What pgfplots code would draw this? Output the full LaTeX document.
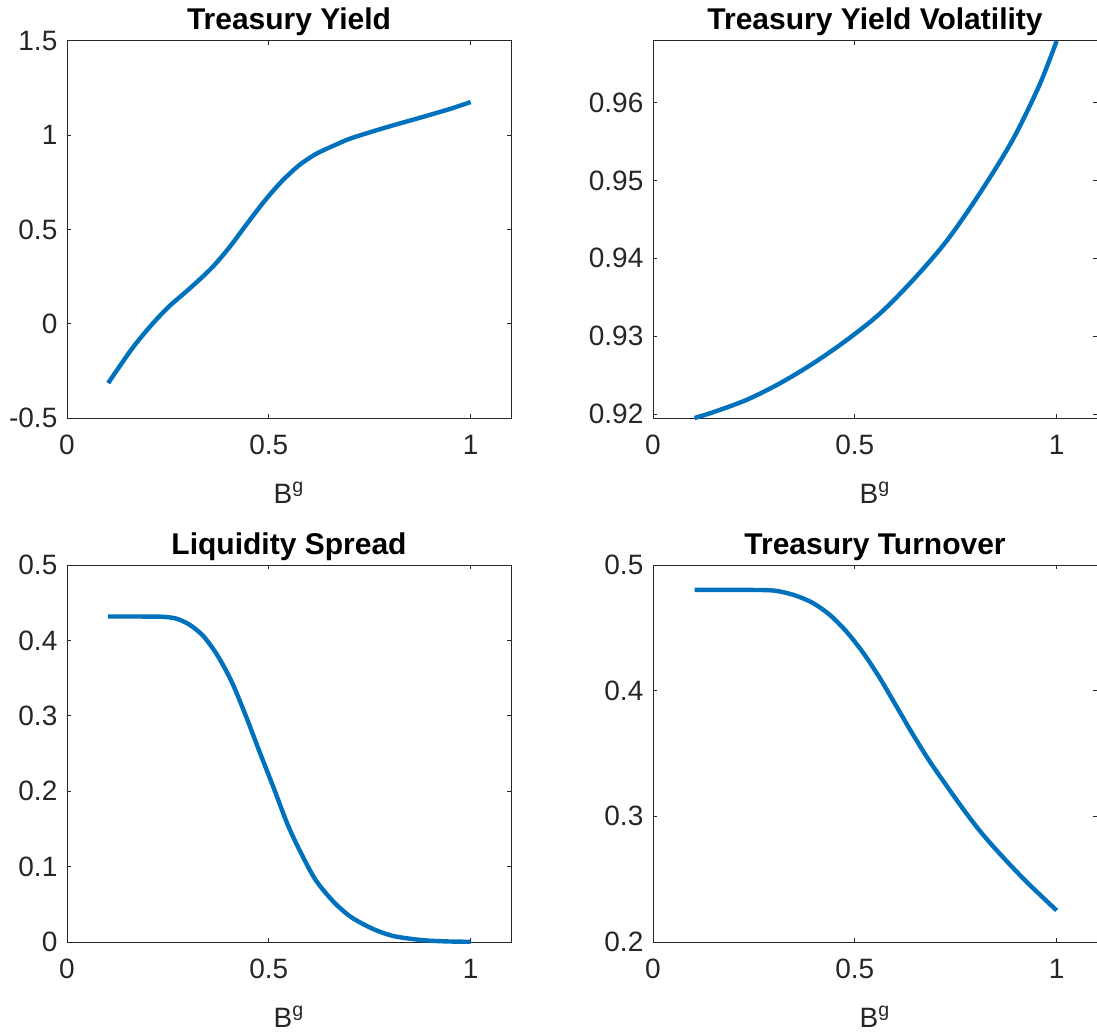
\documentclass[border=0pt]{standalone}
\usepackage{pgfplots}
\pgfplotsset{compat=1.18}
\usepackage{fontspec}
\setmainfont{Liberation Sans}
\definecolor{axgray}{HTML}{262626}
\definecolor{mblue}{HTML}{0072BD}
\pgfplotsset{
  mat/.style={
    scale only axis, width=222pt, height=188.5pt,
    anchor=south west,
    axis line style={axgray, line width=0.5pt},
    every tick/.style={axgray, line width=0.5pt},
    major tick length=2.2pt,
    tick align=inside,
    xtick pos=both, ytick pos=both,
    xmin=0, xmax=1.1,
    xtick={0,0.5,1},
    ticklabel style={font=\fontsize{14}{16}\selectfont, text=axgray},
    xticklabel style={yshift=-5pt},
    yticklabel style={xshift=-1.3pt},
    /pgf/number format/assume math mode=true,
    title style={font=\bfseries\fontsize{15}{17}\selectfont, text=black,
      at={(axis description cs:0.5,1)}, anchor=base, yshift=-0.5pt},
    xlabel={B\textsuperscript{g}},
    xlabel style={font=\fontsize{14}{16}\selectfont, text=axgray,
      at={(axis description cs:0.5,0)}, anchor=base, yshift=-42.5pt},
    clip=false,
  },
  curve/.style={mblue, line width=2.2pt, line join=round, no marks, smooth},
}
\begin{document}
\begin{tikzpicture}
\path[use as bounding box] (0,0) rectangle (548.5pt,517.5pt);
% Treasury Yield
\begin{axis}[mat, at={(33.5pt,308.5pt)}, title={Treasury Yield},
  ymin=-0.5, ymax=1.5, ytick={-0.5,0,0.5,1,1.5}]
\addplot[curve] coordinates {
(0.102,-0.315) (0.130,-0.227) (0.165,-0.121) (0.209,-0.007) (0.252,0.090)
(0.304,0.187) (0.357,0.293) (0.400,0.399) (0.443,0.522) (0.487,0.645)
(0.530,0.751) (0.574,0.839) (0.617,0.901) (0.661,0.945) (0.704,0.984)
(0.791,1.042) (0.878,1.095) (0.948,1.139) (1.000,1.176)};
\end{axis}
% Volatility
\begin{axis}[mat, at={(326.5pt,308.5pt)}, title={Treasury Yield Volatility},
  ymin=0.9195, ymax=0.9679, ytick={0.92,0.93,0.94,0.95,0.96},
  yticklabel style={/pgf/number format/fixed, /pgf/number format/fixed zerofill, /pgf/number format/precision=2}]
\addplot[curve] coordinates {
(0.103,0.9195) (0.150,0.92026) (0.232,0.92183) (0.315,0.92397) (0.397,0.92652)
(0.480,0.92951) (0.562,0.93290) (0.644,0.93720) (0.727,0.94220) (0.809,0.9483)
(0.891,0.9552) (0.957,0.9622) (1.000,0.9679)};
\end{axis}
% Liquidity Spread
\begin{axis}[mat, at={(33.5pt,46.5pt)}, title={Liquidity Spread},
  ymin=0, ymax=0.5, ytick={0,0.1,0.2,0.3,0.4,0.5}]
\addplot[curve] coordinates {
(0.102,0.4317) (0.150,0.4317) (0.200,0.4316) (0.235,0.4314) (0.270,0.429)
(0.304,0.4207) (0.339,0.405) (0.374,0.379) (0.409,0.344) (0.443,0.300)
(0.478,0.251) (0.513,0.203) (0.548,0.154) (0.583,0.1145) (0.617,0.0815)
(0.661,0.053) (0.704,0.033) (0.757,0.0176) (0.809,0.0079) (0.878,0.0026)
(0.940,0.0008) (1.000,0.0003)};
\end{axis}
% Treasury Turnover
\begin{axis}[mat, at={(326.5pt,46.5pt)}, title={Treasury Turnover},
  ymin=0.2, ymax=0.5, ytick={0.2,0.3,0.4,0.5}]
\addplot[curve] coordinates {
(0.103,0.4802) (0.200,0.4802) (0.282,0.4800) (0.315,0.4789) (0.356,0.4754)
(0.397,0.4696) (0.438,0.4603) (0.479,0.4471) (0.521,0.430) (0.562,0.410)
(0.603,0.3876) (0.644,0.3651) (0.685,0.3440) (0.727,0.3245) (0.768,0.3060)
(0.809,0.2887) (0.850,0.2735) (0.891,0.2593) (0.932,0.2458) (1.000,0.2251)};
\end{axis}
\end{tikzpicture}
\end{document}
